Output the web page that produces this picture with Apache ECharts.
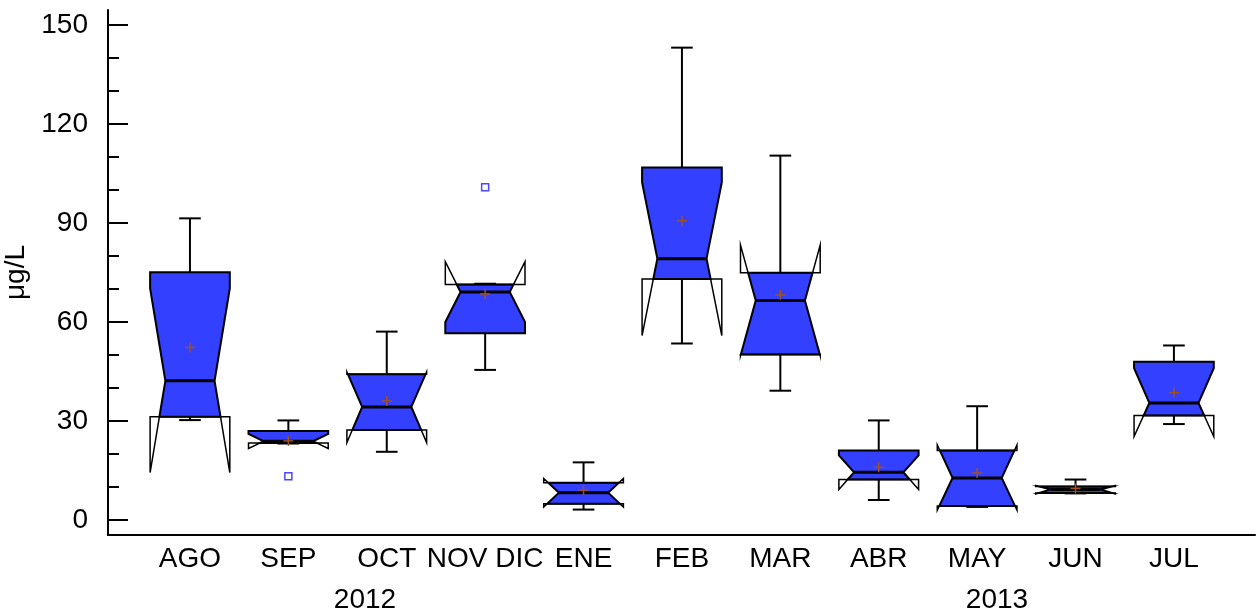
<!DOCTYPE html>
<html>
<head>
<meta charset="utf-8">
<script src="https://cdn.jsdelivr.net/npm/echarts@6/dist/echarts.min.js"></script>
<style>
html, body { margin: 0; padding: 0; background: #fff; }
#chart { width: 1259px; height: 615px; }
</style>
</head>
<body>
<div id="chart"></div>
<script>
var months = ['AGO', 'SEP', 'OCT', 'NOV DIC', 'ENE', 'FEB', 'MAR', 'ABR', 'MAY', 'JUN', 'JUL'];
var whiskerLow  = [30.3, 23.2, 20.7, 45.5,  3.2,  53.5,  39.2,  6.1,  4.0,  8.1, 29.1];
var q1          = [31.3, 23.4, 27.3, 56.6,  5.0,  73.0,  50.2, 12.3,  4.3,  8.2, 31.7];
var median      = [42.2, 23.9, 34.3, 69.1,  8.3,  79.2,  66.5, 14.5, 12.8,  9.3, 35.5];
var q3          = [75.1, 27.0, 44.2, 71.4, 11.3, 106.8,  74.9, 21.1, 21.1, 10.2, 48.0];
var whiskerHigh = [91.4, 30.2, 57.1, 71.6, 17.5, 143.1, 110.4, 30.2, 34.5, 12.3, 52.9];
var means       = [52.3, 24.0, 36.1, 68.5,  9.1,  90.7,  68.2, 16.0, 14.3,  9.6, 38.6];
var notchLow    = [14.4, 21.7, 23.5, 60.0,  4.0,  55.9,  49.8,  9.3,  3.0,  7.9, 25.3];
var notchHigh   = [70.2, 26.1, 44.9, 78.3, 12.6, 102.3,  83.3, 19.6, 22.8, 10.5, 46.0];
// outliers: month index (1-based) and value
var outlierMonth = [2, 4];
var outlierValue = [13.3, 100.8];
var years = ['2012', '2013'];
var majorTicks = [0, 30, 60, 90, 120, 150];
var minorTicks = [10, 20, 40, 50, 70, 80, 100, 110, 130, 140];

var FONT = "'Liberation Sans', Arial, sans-serif";
var FS = 28;
var BLUE = '#3340ff';

var boxData = months.map(function (m, i) {
    return [i + 1, whiskerLow[i], q1[i], median[i], q3[i], whiskerHigh[i], means[i], notchLow[i], notchHigh[i]];
});
var outliers = outlierMonth.map(function (m, i) { return [m, outlierValue[i]]; });

function renderBox(params, api) {
    var x = api.value(0);
    var wLo = api.value(1), lo = api.value(2), med = api.value(3), hi = api.value(4),
        wHi = api.value(5), mean = api.value(6), nl = api.value(7), nh = api.value(8);
    var cx = api.coord([x, 0])[0];
    var unit = api.size([1, 0])[0];
    var outer = unit * 0.405, inner = unit * 0.25, cap = unit * 0.11;
    function py(v) { return api.coord([x, v])[1]; }
    function half(v) {
        var t;
        if (v >= med) t = nh > med ? (v - med) / (nh - med) : 1;
        else t = med > nl ? (med - v) / (med - nl) : 1;
        t = Math.min(1, Math.max(0, t));
        return inner + (outer - inner) * t;
    }

    // blue notched body, clipped to the quartiles
    var right = [[cx + half(hi), py(hi)]];
    if (nh < hi) right.push([cx + outer, py(nh)]);
    right.push([cx + inner, py(med)]);
    if (nl > lo) right.push([cx + outer, py(nl)]);
    right.push([cx + half(lo), py(lo)]);
    var left = right.map(function (p) { return [2 * cx - p[0], p[1]]; }).reverse();

    var kids = [];
    var thin = { stroke: '#000', lineWidth: 1.5, fill: null };
    var line = { stroke: '#000', lineWidth: 2 };

    // whiskers
    kids.push({ type: 'line', shape: { x1: cx, y1: py(hi), x2: cx, y2: py(wHi) }, style: line });
    kids.push({ type: 'line', shape: { x1: cx - cap, y1: py(wHi), x2: cx + cap, y2: py(wHi) }, style: line });
    kids.push({ type: 'line', shape: { x1: cx, y1: py(lo), x2: cx, y2: py(wLo) }, style: line });
    kids.push({ type: 'line', shape: { x1: cx - cap, y1: py(wLo), x2: cx + cap, y2: py(wLo) }, style: line });

    kids.push({
        type: 'polygon',
        shape: { points: right.concat(left) },
        style: { fill: BLUE, stroke: '#000', lineWidth: 2, lineJoin: 'miter' }
    });

    // notch parts that stick out of the box
    if (nh > hi) {
        kids.push({ type: 'polyline', shape: { points: [
            [cx - half(hi), py(hi)], [cx - outer, py(nh)], [cx - outer, py(hi)],
            [cx + outer, py(hi)], [cx + outer, py(nh)], [cx + half(hi), py(hi)]
        ] }, style: thin });
    }
    if (nl < lo) {
        kids.push({ type: 'polyline', shape: { points: [
            [cx - half(lo), py(lo)], [cx - outer, py(nl)], [cx - outer, py(lo)],
            [cx + outer, py(lo)], [cx + outer, py(nl)], [cx + half(lo), py(lo)]
        ] }, style: thin });
    }

    // median
    kids.push({ type: 'line', shape: { x1: cx - inner, y1: py(med), x2: cx + inner, y2: py(med) },
        style: { stroke: '#000', lineWidth: 3 } });

    // mean marker
    var my = py(mean);
    var plus = { stroke: '#a0521e', lineWidth: 1.5 };
    kids.push({ type: 'line', shape: { x1: cx - 5, y1: my, x2: cx + 5, y2: my }, style: plus });
    kids.push({ type: 'line', shape: { x1: cx, y1: my - 5, x2: cx, y2: my + 5 }, style: plus });

    return { type: 'group', children: kids };
}

var chart = echarts.init(document.getElementById('chart'));
chart.setOption({
    animation: false,
    textStyle: { fontFamily: FONT },
    grid: { left: 108, right: 4, top: 10, bottom: 80, outerBoundsMode: 'none', containLabel: false },
    xAxis: {
        type: 'value',
        min: 0.167,
        max: 11.824,
        splitLine: { show: false },
        axisLine: { show: true, onZero: false, lineStyle: { color: '#000', width: 2 } },
        axisTick: { show: false },
        axisLabel: {
            customValues: [1, 2, 3, 4, 5, 6, 7, 8, 9, 10, 11],
            formatter: function (v) { return months[Math.round(v) - 1]; },
            color: '#000', fontSize: FS, fontFamily: FONT, margin: 10
        }
    },
    yAxis: [{
        type: 'value',
        min: -4.5,
        max: 154.5,
        name: 'μg/L',
        nameLocation: 'middle',
        nameGap: 68,
        nameTextStyle: { color: '#000', fontSize: FS, fontFamily: FONT },
        splitLine: { show: false },
        axisLine: { show: true, onZero: false, lineStyle: { color: '#000', width: 2 } },
        axisTick: { customValues: majorTicks, inside: true, length: 20, lineStyle: { color: '#000', width: 2 } },
        axisLabel: { customValues: majorTicks, color: '#000', fontSize: FS, fontFamily: FONT, margin: 20 }
    }, {
        type: 'value',
        min: -4.5,
        max: 154.5,
        position: 'left',
        splitLine: { show: false },
        axisLine: { show: false, onZero: false },
        axisTick: { customValues: minorTicks, inside: true, length: 11, lineStyle: { color: '#000', width: 2 } },
        axisLabel: { show: false }
    }],
    graphic: [
        { type: 'text', x: 365, y: 600, style: { text: years[0], fill: '#000', font: FS + 'px ' + FONT, textAlign: 'center', textVerticalAlign: 'middle' } },
        { type: 'text', x: 997, y: 600, style: { text: years[1], fill: '#000', font: FS + 'px ' + FONT, textAlign: 'center', textVerticalAlign: 'middle' } }
    ],
    series: [{
        type: 'custom',
        renderItem: renderBox,
        data: boxData,
        encode: { x: 0, y: [1, 5] },
        z: 2
    }, {
        type: 'scatter',
        data: outliers,
        symbol: 'rect',
        symbolSize: 7,
        itemStyle: { color: '#fff', borderColor: '#1a1aff', borderWidth: 1.5 },
        z: 3
    }]
});
</script>
</body>
</html>
